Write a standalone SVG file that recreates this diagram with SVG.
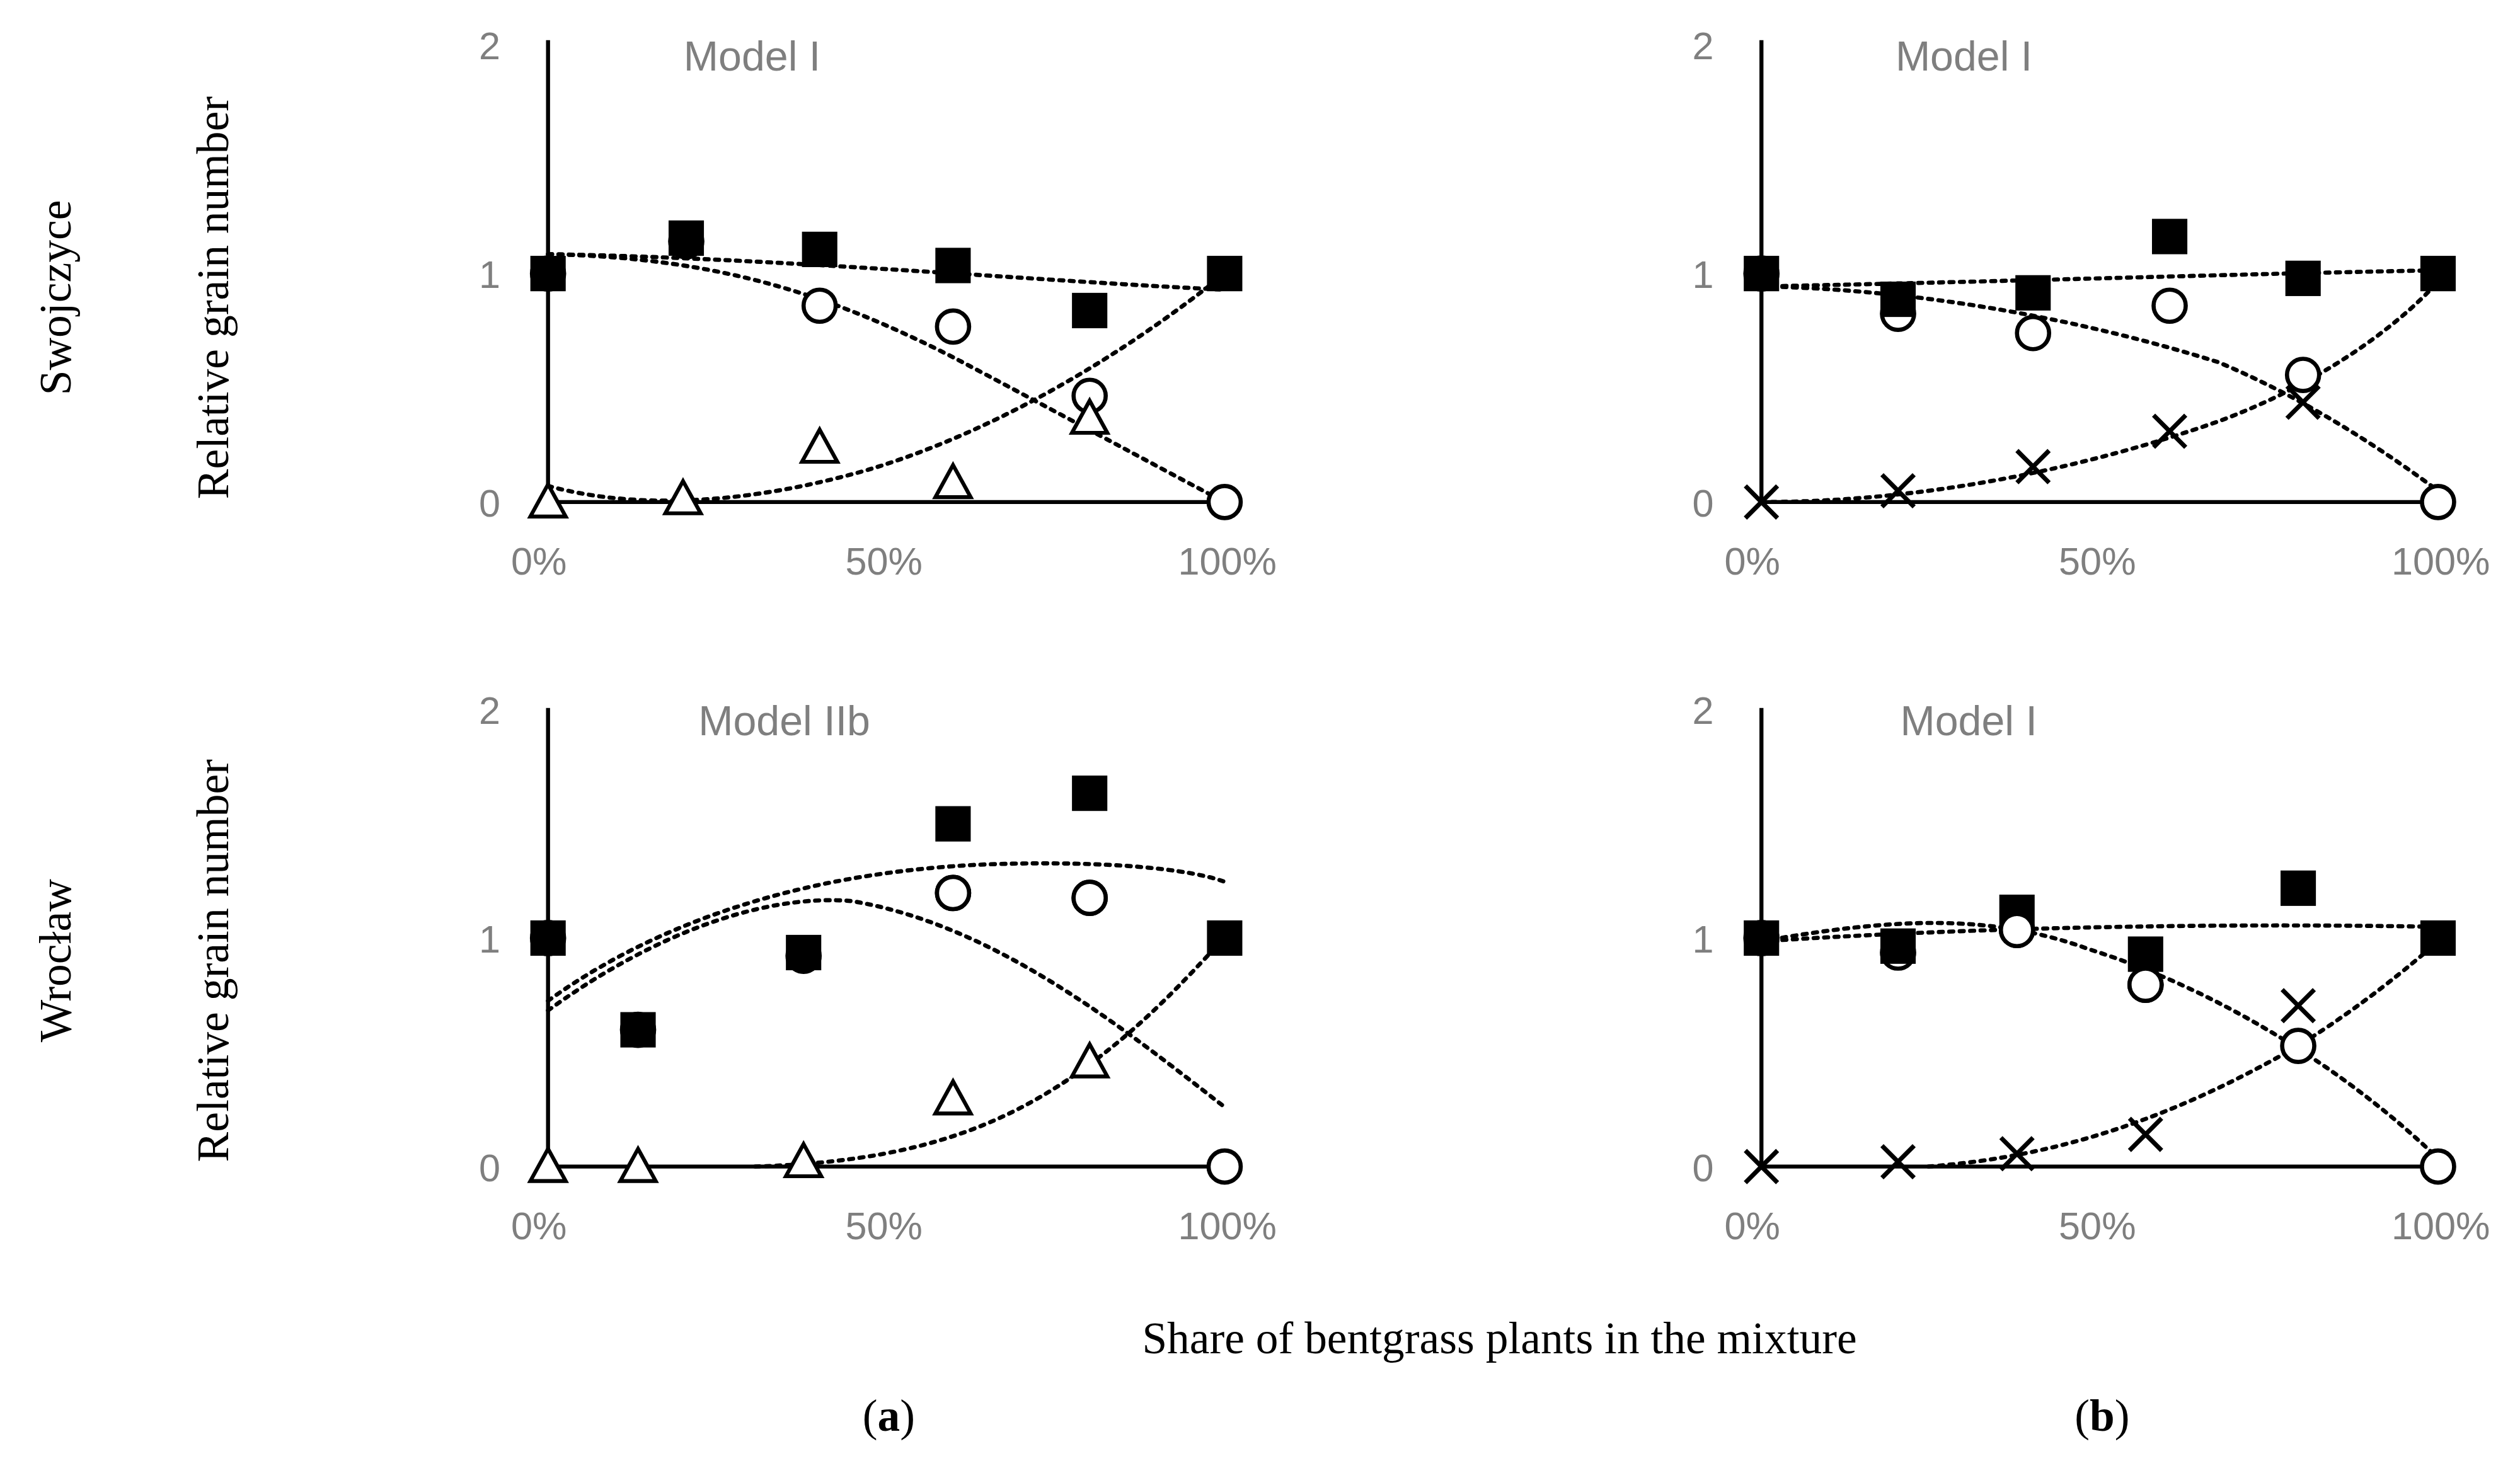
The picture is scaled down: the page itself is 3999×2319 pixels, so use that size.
<svg xmlns="http://www.w3.org/2000/svg" width="3999" height="2319" viewBox="0 0 3999 2319">
<style>
.ax{stroke:#000;stroke-width:2.5;fill:none}
.fit{stroke:#000;stroke-width:2.6;fill:none;stroke-dasharray:2.5 4;stroke-linecap:round}
.sq{fill:#000}
.ci{fill:#fff;stroke:#000;stroke-width:2.6}
.tr{fill:#fff;stroke:#000;stroke-width:2.4}
.cr{stroke:#000;stroke-width:2.8}
.tk{font-family:'Liberation Sans',Arial,sans-serif;font-size:24px;fill:#7f7f7f}
.md{font-family:'Liberation Sans',Arial,sans-serif;font-size:26px;fill:#7f7f7f;text-anchor:middle}
.sf{font-family:'Liberation Serif','Times New Roman',serif;font-size:28px;fill:#000;text-anchor:middle}
</style>
<defs>
<rect id="s" x="-11" y="-11" width="22" height="22" class="sq"/>
<circle id="c" r="10" class="ci"/>
<path id="t" d="M0,-11 L11,9 L-11,9 Z" class="tr"/>
<path id="x" d="M-10,-10 L10,10 M10,-10 L-10,10" class="cr"/>
</defs>
<rect width="3999" height="2319" fill="#fff"/>
<g transform="scale(2.5504,2.554)">
<g id="labels">
<text class="sf" transform="translate(44,185) rotate(-90)">Swojczyce</text>
<text class="sf" transform="translate(44,597) rotate(-90)">Wrocław</text>
<text class="sf" transform="translate(142,185) rotate(-90)">Relative grain number</text>
<text class="sf" transform="translate(142,597) rotate(-90)">Relative grain number</text>
<text class="sf" x="933" y="841">Share of bentgrass plants in the mixture</text>
<text class="sf" x="553" y="889">(<tspan font-weight="bold">a</tspan>)</text>
<text class="sf" x="1308" y="889">(<tspan font-weight="bold">b</tspan>)</text>
</g>
<g id="panel-a-top">
<path class="ax" d="M341,25 V312 H762"/>
<text class="tk" x="298" y="37">2</text><text class="tk" x="298" y="179">1</text><text class="tk" x="298" y="321">0</text>
<text class="tk" x="318" y="357">0%</text><text class="tk" x="526" y="357">50%</text><text class="tk" x="733" y="357">100%</text>
<text class="md" x="468" y="44">Model I</text>
<path class="fit" d="M341,158 C480,160 650,175 762,180"/>
<path class="fit" d="M341,158 C450,160 520,185 593,222 C650,252 720,290 762,312"/>
<path class="fit" d="M341,302 C400,318 470,312 540,292 C620,268 700,220 762,170"/>
<use href="#c" x="341" y="170"/><use href="#c" x="427" y="150"/><use href="#c" x="510" y="190"/><use href="#c" x="593" y="203"/><use href="#c" x="678" y="246"/><use href="#c" x="762" y="312"/>
<use href="#s" x="341" y="170"/><use href="#s" x="427" y="148"/><use href="#s" x="510" y="155"/><use href="#s" x="593" y="165"/><use href="#s" x="678" y="193"/><use href="#s" x="762" y="170"/>
<use href="#t" x="341" y="312"/><use href="#t" x="425" y="310"/><use href="#t" x="510" y="278"/><use href="#t" x="593" y="300"/><use href="#t" x="678" y="260"/>
</g>
<g id="panel-b-top">
<path class="ax" d="M1096,25 V312 H1517"/>
<text class="tk" x="1053" y="37">2</text><text class="tk" x="1053" y="179">1</text><text class="tk" x="1053" y="321">0</text>
<text class="tk" x="1073" y="357">0%</text><text class="tk" x="1281" y="357">50%</text><text class="tk" x="1488" y="357">100%</text>
<text class="md" x="1222" y="44">Model I</text>
<path class="fit" d="M1096,178 C1250,175 1400,170 1517,168"/>
<path class="fit" d="M1096,178 C1200,180 1300,200 1380,225 C1440,250 1490,285 1517,305"/>
<path class="fit" d="M1096,312 C1200,312 1300,290 1380,262 C1440,240 1490,205 1517,175"/>
<use href="#c" x="1096" y="170"/><use href="#c" x="1181" y="195"/><use href="#c" x="1265" y="207"/><use href="#c" x="1350" y="190"/><use href="#c" x="1433" y="233"/><use href="#c" x="1517" y="312"/>
<use href="#s" x="1096" y="170"/><use href="#s" x="1181" y="186"/><use href="#s" x="1265" y="182"/><use href="#s" x="1350" y="147"/><use href="#s" x="1433" y="173"/><use href="#s" x="1517" y="170"/>
<use href="#x" x="1096" y="312"/><use href="#x" x="1181" y="305"/><use href="#x" x="1265" y="290"/><use href="#x" x="1350" y="268"/><use href="#x" x="1433" y="250"/>
</g>
<g id="panel-a-bottom">
<path class="ax" d="M341,440 V725 H762"/>
<text class="tk" x="298" y="450">2</text><text class="tk" x="298" y="592">1</text><text class="tk" x="298" y="734">0</text>
<text class="tk" x="318" y="770">0%</text><text class="tk" x="526" y="770">50%</text><text class="tk" x="733" y="770">100%</text>
<text class="md" x="488" y="457">Model IIb</text>
<path class="fit" d="M341,622 C420,565 520,540 620,537 C690,535 740,540 762,548"/>
<path class="fit" d="M341,628 C400,585 470,555 530,560 C620,575 700,640 762,688"/>
<path class="fit" d="M470,725 C560,722 620,705 680,660 C720,630 745,600 762,583"/>
<use href="#c" x="341" y="583"/><use href="#c" x="397" y="640"/><use href="#c" x="500" y="594"/><use href="#c" x="593" y="555"/><use href="#c" x="678" y="558"/><use href="#c" x="762" y="725"/>
<use href="#s" x="341" y="583"/><use href="#s" x="397" y="640"/><use href="#s" x="500" y="592"/><use href="#s" x="593" y="512"/><use href="#s" x="678" y="493"/><use href="#s" x="762" y="583"/>
<use href="#c" x="593" y="555"/><use href="#c" x="678" y="558"/>
<use href="#t" x="341" y="725"/><use href="#t" x="397" y="725"/><use href="#t" x="500" y="722"/><use href="#t" x="593" y="683"/><use href="#t" x="678" y="660"/>
</g>
<g id="panel-b-bottom">
<path class="ax" d="M1096,440 V725 H1517"/>
<text class="tk" x="1053" y="450">2</text><text class="tk" x="1053" y="592">1</text><text class="tk" x="1053" y="734">0</text>
<text class="tk" x="1073" y="770">0%</text><text class="tk" x="1281" y="770">50%</text><text class="tk" x="1488" y="770">100%</text>
<text class="md" x="1225" y="457">Model I</text>
<path class="fit" d="M1096,585 C1250,575 1400,574 1517,576"/>
<path class="fit" d="M1096,585 C1180,570 1240,568 1300,590 C1380,615 1460,665 1517,720"/>
<path class="fit" d="M1200,725 C1290,718 1360,690 1430,650 C1470,625 1500,600 1517,585"/>
<use href="#c" x="1096" y="583"/><use href="#c" x="1181" y="592"/><use href="#c" x="1255" y="578"/><use href="#c" x="1335" y="612"/><use href="#c" x="1430" y="650"/><use href="#c" x="1517" y="725"/>
<use href="#s" x="1096" y="583"/><use href="#s" x="1181" y="588"/><use href="#s" x="1255" y="567"/><use href="#s" x="1335" y="593"/><use href="#s" x="1430" y="552"/><use href="#s" x="1517" y="583"/>
<use href="#c" x="1255" y="578"/><use href="#c" x="1335" y="612"/>
<use href="#x" x="1096" y="725"/><use href="#x" x="1181" y="722"/><use href="#x" x="1255" y="717"/><use href="#x" x="1335" y="705"/><use href="#x" x="1430" y="625"/>
</g>
</g>
</svg>
